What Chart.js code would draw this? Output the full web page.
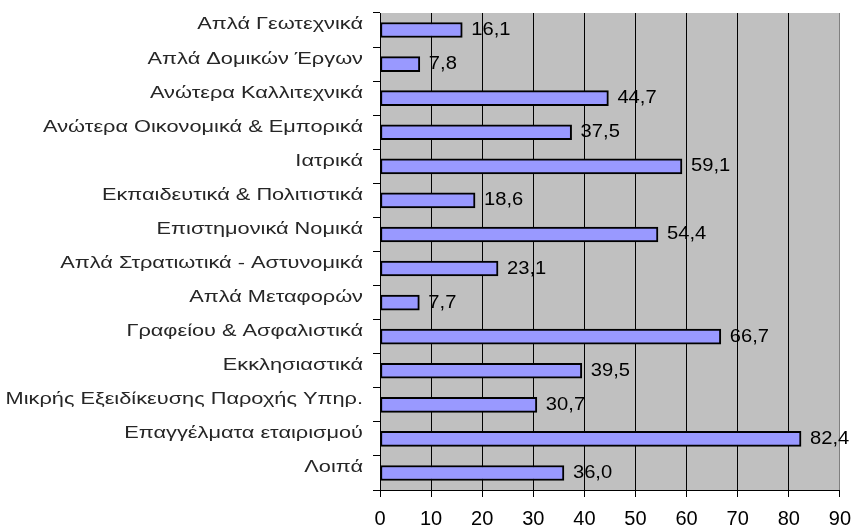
<!DOCTYPE html>
<html>
<head>
<meta charset="utf-8">
<script src="https://cdn.jsdelivr.net/npm/chart.js"></script>
<style>
  html, body { margin: 0; padding: 0; background: #fff; }
  canvas { display: block; }
</style>
</head>
<body>
<canvas id="chart" width="861" height="529"></canvas>
<script>
const categories = [
  'Απλά Γεωτεχνικά',
  'Απλά Δομικών Έργων',
  'Ανώτερα Καλλιτεχνικά',
  'Ανώτερα Οικονομικά & Εμπορικά',
  'Ιατρικά',
  'Εκπαιδευτικά & Πολιτιστικά',
  'Επιστημονικά Νομικά',
  'Απλά Στρατιωτικά - Αστυνομικά',
  'Απλά Μεταφορών',
  'Γραφείου & Ασφαλιστικά',
  'Εκκλησιαστικά',
  'Μικρής Εξειδίκευσης Παροχής Υπηρ.',
  'Επαγγέλματα εταιρισμού',
  'Λοιπά'
];
const values = [16.1, 7.8, 44.7, 37.5, 59.1, 18.6, 54.4, 23.1, 7.7, 66.7, 39.5, 30.7, 82.4, 36.0];
const xTicks = [0, 10, 20, 30, 40, 50, 60, 70, 80, 90];

Chart.defaults.font.family = '"Liberation Sans", Arial, sans-serif';

// grey plot area behind the grid
const plotBg = {
  id: 'plotBg',
  beforeDraw(chart) {
    const a = chart.chartArea, ctx = chart.ctx;
    ctx.save();
    ctx.fillStyle = '#c0c0c0';
    ctx.fillRect(a.left, a.top, a.right - a.left, a.bottom - a.top);
    ctx.restore();
  }
};

// category names, drawn a bit wide like the original
const catLabels = {
  id: 'catLabels',
  afterDraw(chart) {
    const ctx = chart.ctx, y = chart.scales.y;
    const sx = 1.36;
    ctx.save();
    ctx.font = '16px "Liberation Sans", Arial, sans-serif';
    ctx.fillStyle = '#262626';
    ctx.textAlign = 'right';
    ctx.textBaseline = 'middle';
    categories.forEach((c, i) => {
      const py = y.getPixelForValue(i) - 5;
      ctx.save();
      ctx.translate(363, py);
      ctx.scale(sx, 1);
      ctx.fillText(c, 0, 0);
      ctx.restore();
    });
    ctx.restore();
  }
};

// value labels right of each bar
const valLabels = {
  id: 'valLabels',
  afterDatasetsDraw(chart) {
    const ctx = chart.ctx, meta = chart.getDatasetMeta(0);
    ctx.save();
    ctx.font = '18px "Liberation Sans", Arial, sans-serif';
    ctx.fillStyle = '#000';
    ctx.textAlign = 'left';
    ctx.textBaseline = 'middle';
    meta.data.forEach((bar, i) => {
      const txt = values[i].toFixed(1).replace('.', ',');
      ctx.save();
      ctx.translate(bar.x + 9, bar.y);
      ctx.scale(1.12, 1);
      ctx.fillText(txt, 0, 0);
      ctx.restore();
    });
    ctx.restore();
  }
};

new Chart(document.getElementById('chart'), {
  type: 'bar',
  data: {
    labels: categories,
    datasets: [{
      data: values,
      backgroundColor: '#9999ff',
      borderColor: '#000',
      borderWidth: 2,
      borderSkipped: false,
      barThickness: 15
    }]
  },
  options: {
    indexAxis: 'y',
    responsive: false,
    animation: false,
    layout: { padding: { top: 13, right: 13, left: 0, bottom: 0 } },
    plugins: { legend: { display: false }, tooltip: { enabled: false } },
    scales: {
      x: {
        min: 0,
        max: 90,
        afterBuildTicks(scale) { scale.ticks = xTicks.map(v => ({ value: v })); },
        afterFit(scale) { scale.height = 39; },
        ticks: { color: '#000', font: { size: 20 }, padding: 10, maxRotation: 0 },
        grid: {
          color: ctx => (ctx.tick && ctx.tick.value === 90) ? '#808080' : '#000',
          tickColor: '#000',
          tickLength: 7,
          lineWidth: 1
        },
        border: { display: true, color: '#000', width: 1 }
      },
      y: {
        afterFit(scale) { scale.width = 380; },
        ticks: { display: false },
        grid: {
          offset: true,
          drawOnChartArea: false,
          drawTicks: true,
          tickLength: 7,
          color: '#000'
        },
        border: { display: true, color: '#000', width: 1 }
      }
    }
  },
  plugins: [plotBg, catLabels, valLabels]
});
</script>
</body>
</html>
